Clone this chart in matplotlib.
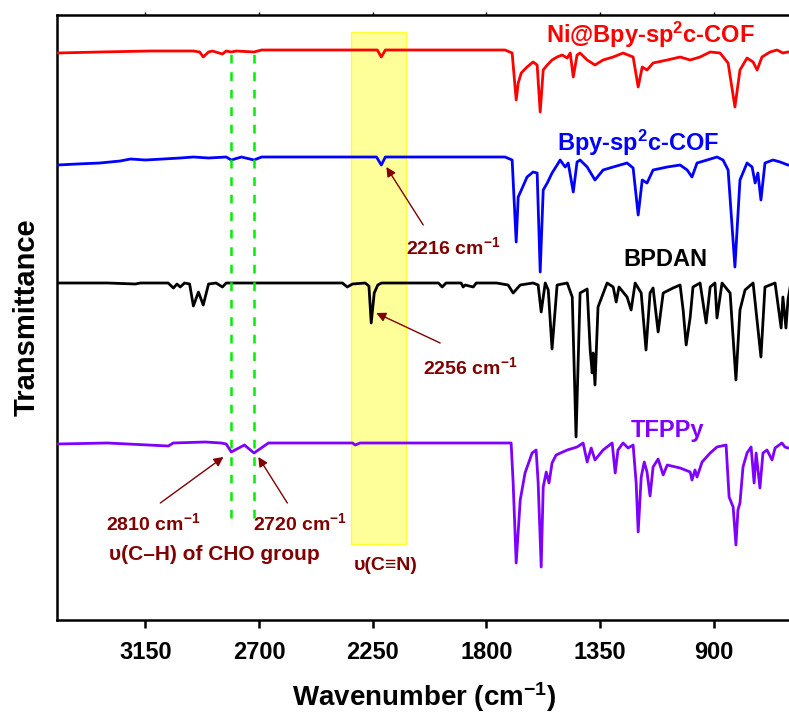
import matplotlib
matplotlib.use('Agg')
import matplotlib.pyplot as plt
from matplotlib.patches import Rectangle

# Fuente tipo Arial
plt.rcParams['font.family'] = ['Liberation Sans', 'DejaVu Sans']
plt.rcParams['font.weight'] = 'bold'
plt.rcParams['mathtext.default'] = 'regular'

# ---------------- datos ----------------
# número de onda (cm-1) y transmitancia relativa a la línea base (u.a.)
red_wn = [3498, 3330, 3130, 2960, 2935, 2921, 2900, 2885, 2845, 2830, 2810, 2790, 2720, 2690,
          2350, 2232, 2216, 2200, 1830, 1726, 1698, 1682, 1674, 1662, 1639, 1615, 1599, 1587,
          1575, 1559, 1540, 1520, 1500, 1480, 1468, 1456, 1441, 1429, 1401, 1370, 1338, 1298,
          1259, 1219, 1199, 1183, 1164, 1140, 1084, 1033, 993, 954, 914, 875, 843, 816, 796,
          768, 744, 728, 709, 677, 649, 626, 606, 598]
red_t = [-3, -2, -1, -1, -2, -7, -2, -1, -4, -1, -2, -1, -2, 0,
         0, 0, -7, 0, 0, 0, -3, -50, -33, -23, -17, -12, -15, -62,
         -20, -15, -10, -7, -5, -8, -3, -27, -5, -3, -10, -15, -10, -7,
         -3, -7, -37, -17, -20, -13, -10, -7, -10, -7, -2, -3, -13, -57, -20,
         -8, -12, -20, -7, -2, 0, -3, -2, -2]

blue_wn = [3498, 3420, 3330, 3250, 3209, 3150, 3080, 3012, 2960, 2900, 2830, 2810, 2770, 2720,
           2690, 2235, 2216, 2200, 1726, 1698, 1682, 1674, 1658, 1639, 1615, 1599, 1587, 1575,
           1559, 1540, 1520, 1508, 1488, 1476, 1456, 1441, 1429, 1401, 1370, 1338, 1298, 1243,
           1219, 1199, 1183, 1164, 1140, 1084, 1033, 1005, 986, 966, 926, 887, 863, 843, 816,
           796, 768, 748, 736, 725, 713, 697, 665, 637, 606, 598]
blue_t = [-8, -7, -6, -4, -2, -3, -2, -1, 0, -1, 0, -3, 0, -3,
          0, 0, -8, 0, 0, -3, -85, -40, -31, -20, -15, -16, -115, -33,
          -26, -16, -8, -3, -10, -6, -35, -5, -3, -10, -23, -13, -10, -6,
          -11, -58, -23, -26, -13, -10, -8, -13, -20, -6, -3, 0, -3, -13, -110,
          -23, -6, -10, -26, -16, -43, -6, -3, -5, -8, -8]

black_wn = [3498, 3300, 3190, 3170, 3060, 3039, 3025, 3012, 2995, 2975, 2960, 2940, 2921, 2900,
            2870, 2845, 2830, 2370, 2351, 2330, 2280, 2265, 2256, 2244, 2230, 2215, 1990, 1975,
            1960, 1900, 1892, 1884, 1852, 1840, 1760, 1714, 1694, 1666, 1615, 1595, 1583, 1567,
            1555, 1540, 1520, 1480, 1460, 1445, 1429, 1401, 1389, 1381, 1377, 1370, 1358, 1322,
            1298, 1286, 1275, 1243, 1227, 1211, 1187, 1168, 1152, 1140, 1120, 1100, 1061, 1033,
            1021, 1009, 993, 982, 954, 930, 914, 895, 887, 867, 835, 812, 796, 776, 744, 713,
            697, 657, 633, 626, 614, 606, 598]
black_t = [0, 0, -1, 0, 0, -5, -1, -4, 0, -1, -23, -9, -22, -1,
           0, -4, 0, 0, -4, -1, 0, -3, -40, -10, -2, 0, 0, -4,
           0, 0, -4, -2, -4, 0, 0, -2, -10, -2, 0, -2, -29, 0,
           -7, -66, -2, 0, -14, -154, -10, -6, -67, -90, -70, -102, -24, 0,
           -4, -19, -4, -14, -27, 0, -10, -67, -10, -5, -49, -10, -5, -2,
           -27, -62, -34, -4, 0, -40, -4, 0, -35, 0, -10, -97, -27, -7, 0, -74,
           -4, 0, -45, -14, -45, -17, -5]

purple_wn = [3498, 3300, 3059, 3040, 2913, 2850, 2830, 2810, 2758, 2720, 2663, 2330, 2319, 2300,
             1718, 1702, 1694, 1682, 1666, 1647, 1619, 1603, 1595, 1583, 1575, 1563, 1552, 1540,
             1524, 1480, 1441, 1417, 1401, 1385, 1370, 1338, 1302, 1290, 1279, 1259, 1239, 1219,
             1207, 1199, 1187, 1175, 1164, 1152, 1140, 1120, 1100, 1084, 1033, 993, 986, 974,
             966, 946, 914, 887, 851, 839, 823, 812, 804, 796, 784, 768, 752, 740, 732, 717,
             705, 689, 669, 657, 630, 618, 606, 598]
purple_t = [-1, 0, -3, 0, 1, 0, -1, -9, -2, -10, 0, 0, -2, 0,
            0, 0, -40, -120, -57, -30, -10, -7, -40, -124, -44, -29, -40, -20,
            -12, -7, -4, 0, -19, -5, -17, -7, 0, -30, -7, 0, -5, -2,
            -40, -89, -34, -19, -29, -53, -24, -16, -32, -22, -25, -29, -37, -27,
            -34, -19, -10, -4, -2, -54, -64, -102, -67, -60, -24, -10, -4, -40, -10, -45,
            -10, -7, -17, -5, 0, -4, -5, -5]

nombres = ['Ni@Bpy-sp$^{2}$c-COF', 'Bpy-sp$^{2}$c-COF', 'BPDAN', 'TFPPy']
colores = ['#ff0000', '#0000ff', '#000000', '#8000ff']
desplaz = [570, 463, 337, 177]  # desplazamiento vertical de cada espectro

# picos marcados
ch_picos = [2810, 2720]
cn_banda = [2335, 2118]
ticks_x = [3150, 2700, 2250, 1800, 1350, 900]

# ---------------- figura ----------------
fig = plt.figure(figsize=(7.89, 7.16), dpi=100)
ax = fig.add_axes([57 / 789, 96 / 716, 735 / 789, 605 / 716])

# banda amarilla de C≡N
ax.add_patch(Rectangle((cn_banda[1], 76), cn_banda[0] - cn_banda[1], 512,
                       facecolor='#ffff99', edgecolor='#ffff33', lw=1, zorder=1))

series = [(red_wn, red_t), (blue_wn, blue_t), (black_wn, black_t), (purple_wn, purple_t)]
for (wn, t), col, off in zip(series, colores, desplaz):
    ax.plot(wn, [v + off for v in t], color=col, lw=2, zorder=3)

# líneas verdes discontinuas
for p in ch_picos:
    ax.plot([p, p], [102, 570], color='#00ee00', lw=1.8, dashes=(3.5, 3.5), zorder=4)

# etiquetas de cada espectro
pos_nombres = [(1150, 585), (1199, 477), (1092, 360), (1081, 190)]
for n, col, (x, y) in zip(nombres, colores, pos_nombres):
    ax.text(x, y, n, color=col, fontsize=17, fontweight='bold', ha='center', va='center')

# anotaciones con flechas
rojo_osc = '#800000'
flecha = dict(arrowstyle='-|>', color=rojo_osc, lw=1, mutation_scale=14, shrinkA=0, shrinkB=0)
ax.annotate('', xy=(2196, 453), xytext=(2050, 395), arrowprops=flecha, zorder=5)
ax.text(1931, 373, '2216 cm$^{-1}$', color=rojo_osc, fontsize=14, fontweight='bold',
        ha='center', va='center')
ax.annotate('', xy=(2236, 307), xytext=(1983, 277), arrowprops=flecha, zorder=5)
ax.text(1864, 253, '2256 cm$^{-1}$', color=rojo_osc, fontsize=14, fontweight='bold',
        ha='center', va='center')
ax.annotate('', xy=(2841, 163), xytext=(3091, 117), arrowprops=flecha, zorder=5)
ax.text(3118, 97, '2810 cm$^{-1}$', color=rojo_osc, fontsize=14, fontweight='bold',
        ha='center', va='center')
ax.annotate('', xy=(2703, 163), xytext=(2588, 117), arrowprops=flecha, zorder=5)
ax.text(2537, 97, '2720 cm$^{-1}$', color=rojo_osc, fontsize=14, fontweight='bold',
        ha='center', va='center')
ax.text(2877, 65, 'υ(C–H) of CHO group', color=rojo_osc, fontsize=15, fontweight='bold',
        ha='center', va='center', family=['Liberation Sans', 'DejaVu Sans'])
ax.text(2200, 55, 'υ(C≡N)', color=rojo_osc, fontsize=14, fontweight='bold',
        ha='center', va='center', family=['Liberation Sans', 'DejaVu Sans'])

# ejes
ax.set_xlim(3500, 590)
ax.set_ylim(0, 605)
ax.set_yticks([])
ax.set_xticks(ticks_x)
ax.tick_params(axis='x', direction='out', length=6, width=1.8, pad=9)
for lab in ax.get_xticklabels():
    lab.set_fontsize(17)
    lab.set_fontweight('bold')
for s in ax.spines.values():
    s.set_linewidth(1.8)

sec = ax.secondary_xaxis('top')
sec.set_xticks(ticks_x)
sec.tick_params(direction='out', length=2, width=1, labeltop=False)

ax.set_xlabel('Wavenumber (cm$^{-1}$)', fontsize=20, fontweight='bold', labelpad=12)
ax.set_ylabel('Transmittance', fontsize=21, fontweight='bold', labelpad=12)

fig.savefig('out.png', dpi=100)
